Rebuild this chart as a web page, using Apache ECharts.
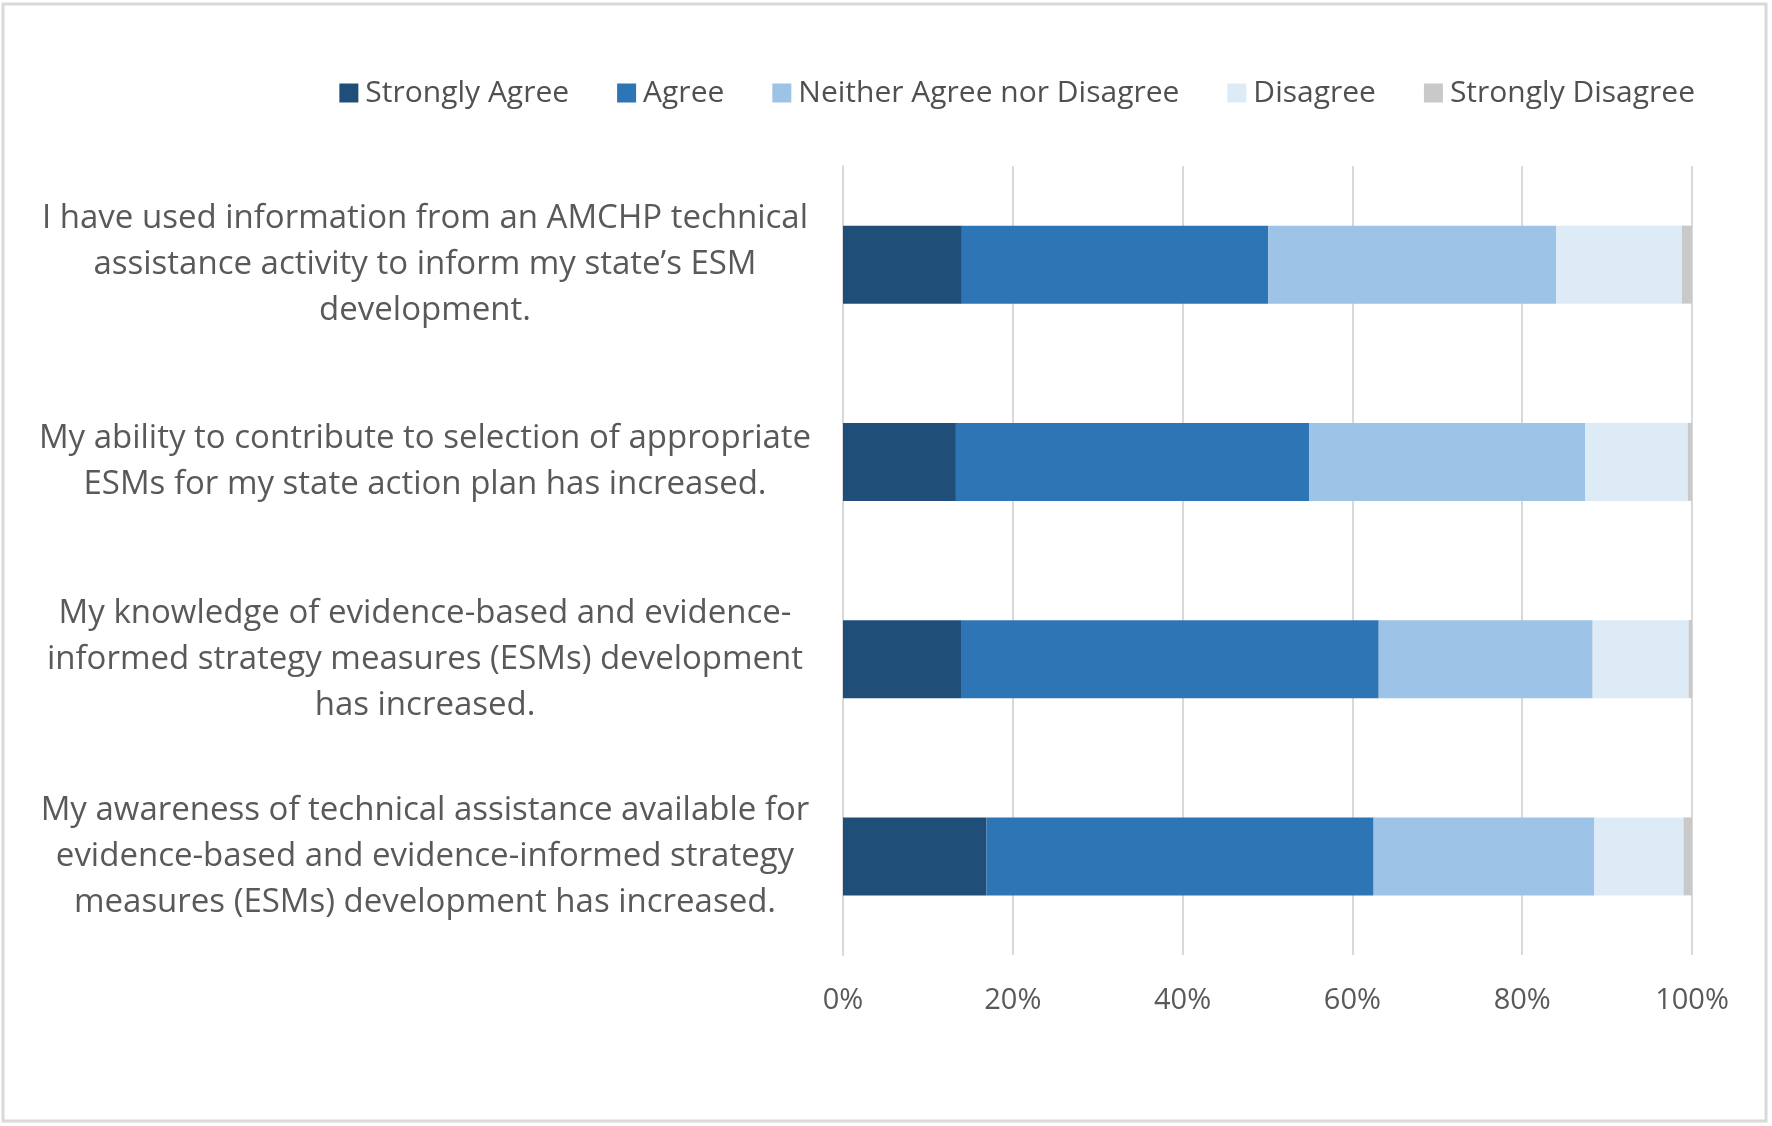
<!DOCTYPE html>
<html>
<head>
<meta charset="utf-8">
<script src="https://cdn.jsdelivr.net/npm/echarts@6/dist/echarts.min.js"></script>
<style>
html,body{margin:0;padding:0;background:#fff;}
#chart{width:1772px;height:1126px;}
</style>
</head>
<body>
<div id="chart"></div>
<script>
const categories = [
  "I have used information from an AMCHP technical\nassistance activity to inform my state’s ESM\ndevelopment.",
  "My ability to contribute to selection of appropriate\nESMs for my state action plan has increased.",
  "My knowledge of evidence-based and evidence-\ninformed strategy measures (ESMs) development\nhas increased.",
  "My awareness of technical assistance available for\nevidence-based and evidence-informed strategy\nmeasures (ESMs) development has increased."
];
const seriesNames = ["Strongly Agree", "Agree", "Neither Agree nor Disagree", "Disagree", "Strongly Disagree"];
const stronglyAgree = [14.0, 13.3, 13.9, 16.9];
const agree = [36.1, 41.6, 49.2, 45.6];
const neither = [33.9, 32.5, 25.2, 26.0];
const disagree = [14.8, 12.1, 11.3, 10.5];
const stronglyDisagree = [1.2, 0.5, 0.4, 1.0];
const xTicks = [0, 20, 40, 60, 80, 100];

const colors = ["#1F4E79", "#2E75B6", "#9DC3E6", "#DDEBF7", "#C9C9C9"];
const values = [stronglyAgree, agree, neither, disagree, stronglyDisagree];
const FONT = "Open Sans";

const chart = echarts.init(document.getElementById('chart'));
chart.setOption({
  animation: false,
  textStyle: { fontFamily: FONT },
  graphic: [{
    type: 'rect',
    shape: { x: 3, y: 4, width: 1763, height: 1117 },
    style: { fill: 'none', stroke: '#D9D9D9', lineWidth: 3 },
    silent: true
  }],
  legend: {
    data: seriesNames,
    right: 72,
    top: 73,
    itemWidth: 19,
    itemHeight: 19,
    itemGap: 48,
    icon: 'rect',
    textStyle: { fontFamily: FONT, fontSize: 30, color: '#505050', padding: [0, 0, 0, 2] }
  },
  grid: { left: 843, right: 80, top: 166, bottom: 171, containLabel: false },
  xAxis: {
    type: 'value',
    min: xTicks[0],
    max: xTicks[xTicks.length - 1],
    interval: xTicks[1] - xTicks[0],
    axisLine: { show: false },
    axisTick: { show: false },
    splitLine: { show: true, lineStyle: { color: '#D9D9D9', width: 2 } },
    axisLabel: { formatter: '{value}%', fontFamily: FONT, fontSize: 29, color: '#595959', margin: 31 }
  },
  yAxis: {
    type: 'category',
    data: categories,
    inverse: true,
    axisLine: { show: true, lineStyle: { color: '#D9D9D9', width: 2 } },
    axisTick: { show: false },
    axisLabel: {
      align: 'center',
      margin: 418,
      fontFamily: FONT,
      fontSize: 33,
      lineHeight: 46,
      color: '#595959'
    }
  },
  series: seriesNames.map((name, i) => ({
    name: name,
    type: 'bar',
    stack: 'total',
    barWidth: 78,
    data: values[i],
    itemStyle: { color: colors[i] }
  }))
});
</script>
</body>
</html>
